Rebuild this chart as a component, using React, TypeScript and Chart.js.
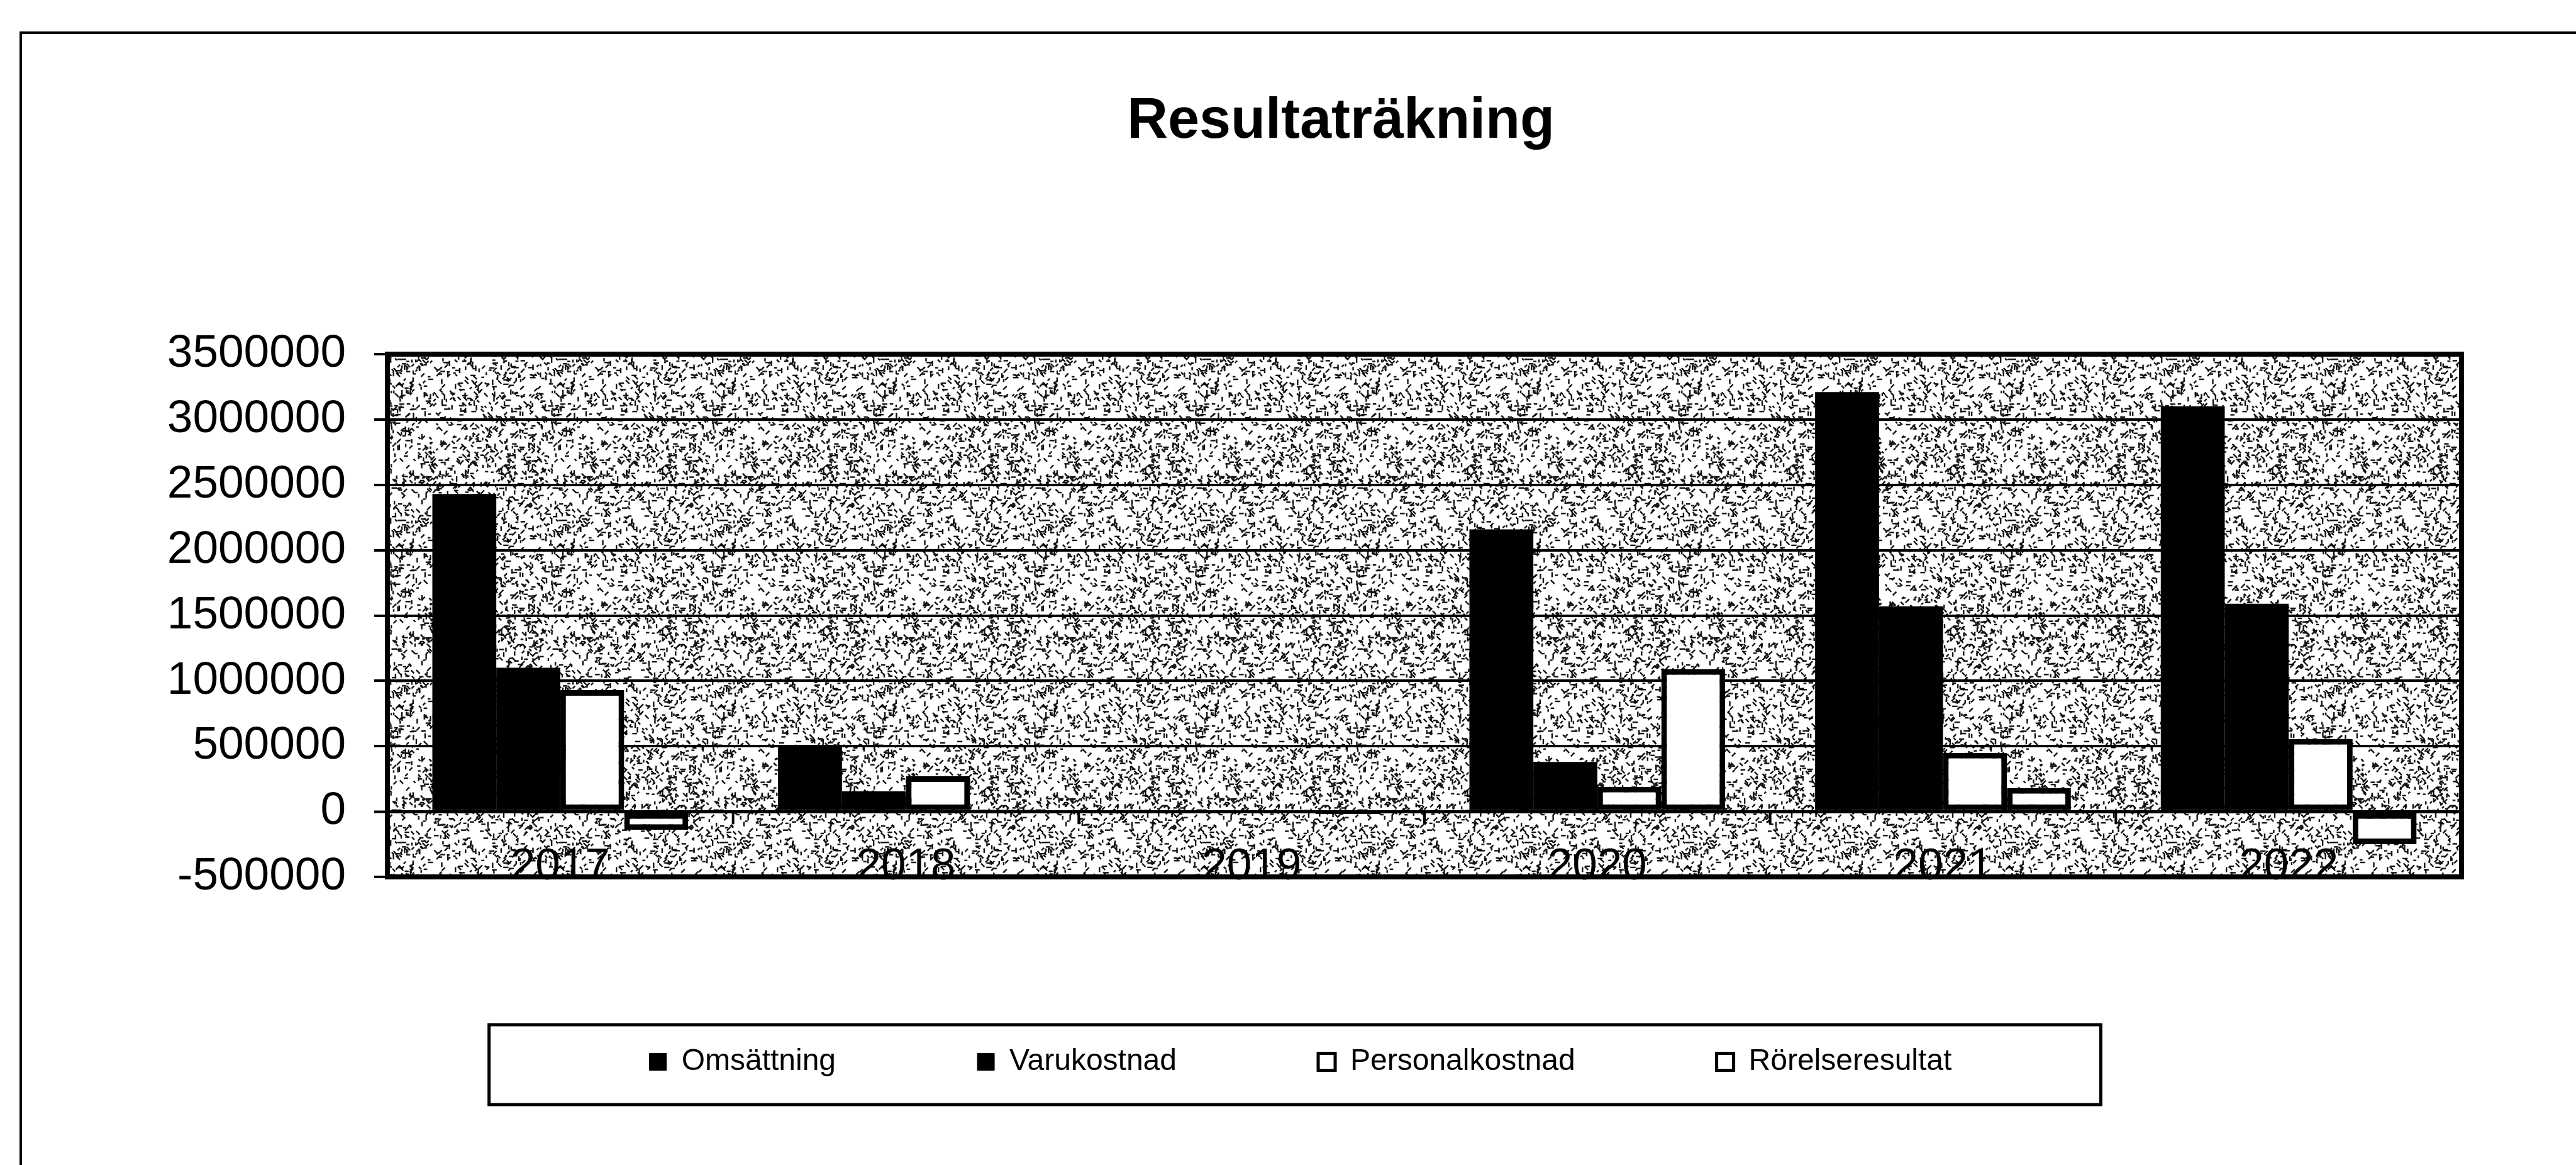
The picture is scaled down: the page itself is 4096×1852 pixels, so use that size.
import React, { useEffect, useRef } from 'react';
import { Chart, registerables } from 'chart.js';

Chart.register(...registerables);

// ---- Data ----
const categories = ['2017', '2018', '2019', '2020', '2021', '2022'];
const seriesNames = ['Omsättning', 'Varukostnad', 'Personalkostnad', 'Rörelseresultat'];
const omsattning = [2430000, 500000, 0, 2160000, 3210000, 3100000];
const varukostnad = [1100000, 155000, 0, 380000, 1570000, 1590000];
const personalkostnad = [930000, 270000, 0, 190000, 450000, 555000];
const rorelseresultat = [-140000, 15000, -20000, 1090000, 180000, -250000];
const yMin = -500000;
const yMax = 3500000;
const yStep = 500000;
const titleText = 'Resultaträkning';

const FONT = "'Liberation Sans', Arial, Helvetica, sans-serif";
const W = 4096;
const H = 1852;
const TITLE_SHIFT = 64;

function makePattern(ctx: CanvasRenderingContext2D): CanvasPattern | string {
  const size = 256;
  const c = document.createElement('canvas');
  c.width = size;
  c.height = size;
  const g = c.getContext('2d');
  if (!g) return '#c4c4c4';
  g.fillStyle = '#ffffff';
  g.fillRect(0, 0, size, size);
  g.strokeStyle = '#111111';
  g.lineWidth = 2.4;
  g.lineCap = 'square';
  let s = 987654321;
  const next = () => {
    s = (Math.imul(s, 1103515245) + 12345) & 0x7fffffff;
    return s / 0x7fffffff;
  };
  for (let i = 0; i < 1050; i++) {
    const x = next() * size;
    const y = next() * size;
    const a = (Math.floor(next() * 4) * Math.PI) / 4;
    const l = 1.5 + next() * 5;
    for (const dx of [0, -size, size]) {
      for (const dy of [0, -size, size]) {
        g.beginPath();
        g.moveTo(x + dx, y + dy);
        g.lineTo(x + dx + Math.cos(a) * l, y + dy + Math.sin(a) * l);
        g.stroke();
      }
    }
  }
  return ctx.createPattern(c, 'repeat') || '#c4c4c4';
}

export default function App() {
  const canvasRef = useRef<HTMLCanvasElement | null>(null);

  useEffect(() => {
    document.body.style.margin = '0';
    document.documentElement.style.overflow = 'hidden';
    const canvas = canvasRef.current;
    if (!canvas) return;
    const ctx0 = canvas.getContext('2d');
    if (!ctx0) return;
    const pattern = makePattern(ctx0);

    const decor = {
      id: 'decor',
      afterLayout(chart: any) {
        const tb = chart.titleBlock;
        if (tb) {
          tb.left += TITLE_SHIFT;
          tb.right += TITLE_SHIFT;
        }
      },
      beforeDraw(chart: any) {
        const { ctx, chartArea: a, width, height } = chart;
        ctx.save();
        ctx.fillStyle = '#ffffff';
        ctx.fillRect(0, 0, width, height);
        // outer chart border (continues past the right and bottom edges)
        ctx.strokeStyle = '#000';
        ctx.lineWidth = 4;
        ctx.beginPath();
        ctx.moveTo(33, height + 5);
        ctx.lineTo(33, 52);
        ctx.lineTo(width + 5, 52);
        ctx.stroke();
        // plot area texture
        ctx.fillStyle = pattern;
        ctx.fillRect(a.left, a.top, a.right - a.left, a.bottom - a.top);
        ctx.restore();
      },
      afterDatasetsDraw(chart: any) {
        const { ctx, chartArea: a } = chart;
        const xs = chart.scales.x;
        const ys = chart.scales.y;
        ctx.save();
        // category tick marks hanging below the zero line
        const y0 = ys.getPixelForValue(0);
        ctx.strokeStyle = '#000';
        ctx.lineWidth = 4;
        ctx.beginPath();
        for (let i = 1; i < categories.length; i++) {
          const xb = (xs.getPixelForValue(i - 1) + xs.getPixelForValue(i)) / 2;
          ctx.moveTo(xb, y0);
          ctx.lineTo(xb, y0 + 20);
        }
        ctx.stroke();
        // plot frame
        ctx.lineWidth = 8;
        ctx.strokeRect(a.left, a.top, a.right - a.left, a.bottom - a.top);
        // category labels, sitting on the bottom of the plot area
        ctx.fillStyle = '#000';
        ctx.font = `71px ${FONT}`;
        ctx.textAlign = 'center';
        ctx.textBaseline = 'alphabetic';
        categories.forEach((lab, i) => {
          ctx.fillText(lab, xs.getPixelForValue(i), a.bottom + 4);
        });
        ctx.restore();
      },
      afterDraw(chart: any) {
        const lg = chart.legend;
        if (!lg || !lg.legendHitBoxes || !lg.legendHitBoxes.length) return;
        const hb = lg.legendHitBoxes;
        const first = hb[0];
        const last = hb[hb.length - 1];
        const x0 = first.left - 255;
        const x1 = last.left + last.width + 237;
        const y0 = first.top - 35;
        const y1 = first.top + 92;
        const { ctx } = chart;
        ctx.save();
        ctx.strokeStyle = '#000';
        ctx.lineWidth = 5;
        ctx.strokeRect(x0, y0, x1 - x0, y1 - y0);
        ctx.restore();
      },
    };

    const chart = new Chart(canvas, {
      type: 'bar',
      data: {
        labels: categories,
        datasets: [
          { label: seriesNames[0], data: omsattning, backgroundColor: '#000000', borderColor: '#000000', borderWidth: 0 },
          { label: seriesNames[1], data: varukostnad, backgroundColor: '#000000', borderColor: '#000000', borderWidth: 0 },
          { label: seriesNames[2], data: personalkostnad, backgroundColor: '#ffffff', borderColor: '#000000', borderWidth: 9, borderSkipped: false },
          { label: seriesNames[3], data: rorelseresultat, backgroundColor: '#ffffff', borderColor: '#000000', borderWidth: 9, borderSkipped: false },
        ],
      },
      options: {
        responsive: false,
        animation: false,
        events: [],
        datasets: { bar: { categoryPercentage: 0.74, barPercentage: 1.0 } },
        layout: { padding: { left: 222, right: 182, top: 0, bottom: 130 } },
        scales: {
          x: {
            type: 'category',
            position: 'bottom',
            grid: { display: false },
            border: { display: false },
            ticks: { display: false },
            afterFit: (s: any) => {
              s.height = 0;
            },
          },
          y: {
            position: 'left',
            min: yMin,
            max: yMax,
            clip: false,
            ticks: {
              stepSize: yStep,
              color: '#000000',
              font: { family: FONT, size: 73 },
              padding: 45,
              callback: (v: any) => String(v),
            },
            grid: {
              color: '#000000',
              lineWidth: (c: any) => (c.tick && c.tick.value === 0 ? 5 : 4),
              drawTicks: true,
              tickLength: 21,
              tickWidth: 4,
              tickColor: '#000000',
            },
            border: { display: false },
            afterFit: (s: any) => {
              s.width = 394;
            },
          },
        },
        plugins: {
          title: {
            display: true,
            text: titleText,
            color: '#000000',
            font: { family: FONT, size: 90, weight: 'bold' },
            padding: { top: 140, bottom: 315 },
          },
          legend: {
            display: true,
            position: 'bottom',
            align: 'center',
            title: { display: true, text: '', padding: { top: 33, bottom: 0 }, font: { size: 10 } },
            labels: {
              color: '#000000',
              font: { family: FONT, size: 48 },
              boxWidth: 27,
              boxHeight: 27,
              padding: 225,
              generateLabels: (ch: any) =>
                ch.data.datasets.map((ds: any, i: number) => ({
                  text: ds.label,
                  fillStyle: ds.backgroundColor,
                  strokeStyle: '#000000',
                  lineWidth: i >= 2 ? 5 : 1,
                  hidden: false,
                  datasetIndex: i,
                  fontColor: '#000000',
                })),
            },
          },
          tooltip: { enabled: false },
        },
      } as any,
      plugins: [decor as any],
    });

    return () => {
      chart.destroy();
    };
  }, []);

  return (
    <div style={{ width: W, height: H, overflow: 'hidden', background: '#fff' }}>
      <canvas ref={canvasRef} width={W} height={H} style={{ display: 'block', width: W, height: H }} />
    </div>
  );
}
